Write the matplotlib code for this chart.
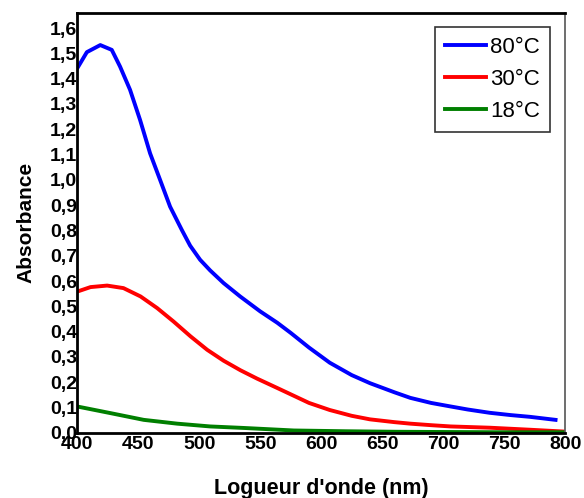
import numpy as np
import matplotlib.pyplot as plt

plt.rcParams['font.family'] = ['Liberation Sans', 'DejaVu Sans']

# Données
lambda_80 = np.array([400, 408, 419, 428.4, 435.2, 443.4, 451.6, 459.8, 468, 476.2,
                      485.8, 492.6, 500.8, 509, 520, 533.6, 550, 564, 575, 590,
                      607, 625, 640, 660, 673, 690, 706, 720, 738, 755, 771, 792])
abs_80 = np.array([1.44, 1.505, 1.533, 1.514, 1.448, 1.356, 1.237, 1.105, 1.0,
                   0.894, 0.802, 0.74, 0.684, 0.642, 0.592, 0.539, 0.48, 0.435,
                   0.395, 0.337, 0.277, 0.228, 0.196, 0.16, 0.138, 0.118, 0.104,
                   0.092, 0.079, 0.07, 0.063, 0.051])

lambda_30 = np.array([400, 411, 424.6, 438, 452, 465.6, 479, 493, 506.6, 520,
                      533.9, 547.5, 564, 579, 590, 607, 625, 640, 660, 673, 690,
                      706, 738, 771, 798])
abs_30 = np.array([0.558, 0.576, 0.582, 0.572, 0.539, 0.493, 0.44, 0.381, 0.328,
                   0.285, 0.247, 0.214, 0.177, 0.143, 0.118, 0.09, 0.067, 0.053,
                   0.042, 0.036, 0.03, 0.025, 0.02, 0.012, 0.005])

lambda_18 = np.array([400, 427, 454.6, 482, 509, 536.6, 577.6, 620, 660, 700,
                      750, 800])
abs_18 = np.array([0.104, 0.078, 0.051, 0.036, 0.025, 0.019, 0.009, 0.006,
                   0.004, 0.003, 0.002, 0.002])

ticks_x = [400, 450, 500, 550, 600, 650, 700, 750, 800]
ticks_y = np.arange(0, 17) / 10

fig = plt.figure(figsize=(5.84, 4.98), dpi=100)
ax = fig.add_axes([0.132, 0.131, 0.836, 0.843])

ax.plot(lambda_80, abs_80, color='#0000ff', linewidth=2.8, label='80°C')
ax.plot(lambda_30, abs_30, color='#ff0000', linewidth=2.8, label='30°C')
ax.plot(lambda_18, abs_18, color='#007f00', linewidth=2.8, label='18°C')

ax.set_xlim(400, 800)
ax.set_ylim(0, 1.66)
ax.set_xticks(ticks_x)
ax.set_xticklabels([str(t) for t in ticks_x], fontsize=14, fontweight='bold')
ax.set_yticks(ticks_y)
ax.set_yticklabels([f'{t:.1f}'.replace('.', ',') for t in ticks_y],
                   fontsize=14, fontweight='bold')
ax.tick_params(axis='y', length=0, pad=0)
ax.tick_params(axis='x', length=0, pad=2)

for s in ['left', 'bottom', 'top']:
    ax.spines[s].set_linewidth(2)
    ax.spines[s].set_color('black')
ax.spines['right'].set_linewidth(1.2)
ax.spines['right'].set_color('#555555')

ax.set_xlabel("Logueur d'onde (nm)", fontsize=15.5, fontweight='bold', labelpad=18)
ax.set_ylabel('Absorbance', fontsize=15, fontweight='bold', labelpad=10)

leg = ax.legend(loc='upper right', fontsize=16, frameon=True, fancybox=False,
                handlelength=1.85, handletextpad=0.2, borderpad=0.45,
                labelspacing=0.5, borderaxespad=0,
                bbox_to_anchor=(0.969, 0.967))
leg.get_frame().set_edgecolor('black')
leg.get_frame().set_linewidth(1.2)

fig.savefig('out.png', dpi=100)
